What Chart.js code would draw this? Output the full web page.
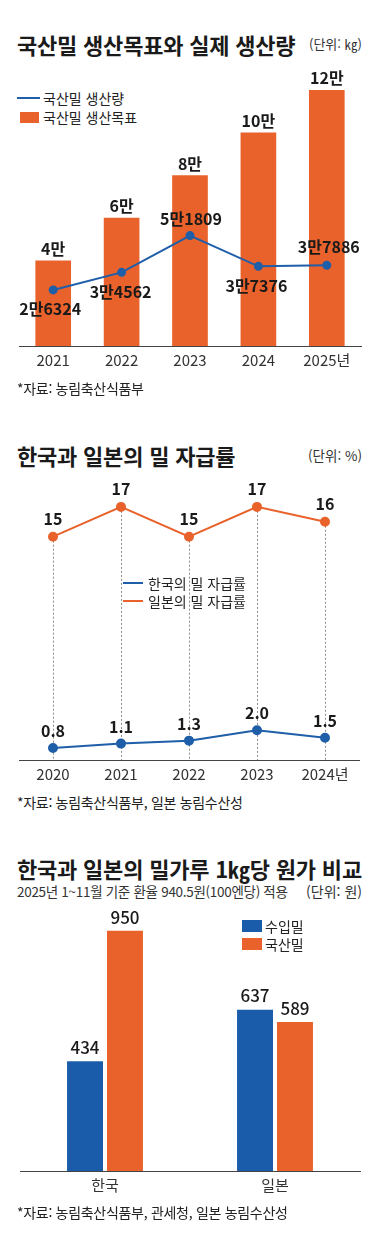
<!DOCTYPE html>
<html lang="ko">
<head>
<meta charset="utf-8">
<script src="https://cdn.jsdelivr.net/npm/chart.js@4.4.1/dist/chart.umd.min.js"></script>
<style>
  body { margin: 0; background: #fff; width: 392px; height: 1247px; position: relative; overflow: hidden;
         font-family: 'Noto Sans CJK KR', 'Noto Sans', sans-serif; color: #222; }
  .t { position: absolute; white-space: nowrap; }
  .title { left: 17px; font-size: 22px; font-weight: 700; line-height: 26px; letter-spacing: -0.2px; color: #1a1a1a; }
  .unit { font-size: 13px; line-height: 16px; color: #333; }
  .sub { left: 17px; font-size: 13.5px; line-height: 16px; color: #333; letter-spacing: -0.3px; }
  .src { left: 17px; font-size: 14px; line-height: 16px; color: #222; letter-spacing: -0.3px; }
  .lg { font-size: 14px; line-height: 18px; color: #222; }
  .sw { position: absolute; }
  canvas { position: absolute; left: 0; }
</style>
</head>
<body>

<!-- 1. 국산밀 생산목표와 실제 생산량 -->
<div class="t title" style="top:31px">국산밀 생산목표와 실제 생산량</div>
<div class="t unit" style="top:36px; right:30px">(단위: ㎏)</div>
<div class="sw" style="left:17px; top:97px; width:23px; height:2px; background:#1f5ea8"></div>
<div class="t lg" style="left:43px; top:89px">국산밀 생산량</div>
<div class="sw" style="left:20px; top:112px; width:19px; height:11px; background:#e9622b"></div>
<div class="t lg" style="left:43px; top:108px">국산밀 생산목표</div>
<canvas id="c1" width="392" height="320" style="top:60px"></canvas>
<div class="t src" style="top:380px">*자료: 농림축산식품부</div>

<!-- 2. 한국과 일본의 밀 자급률 -->
<div class="t title" style="top:442px">한국과 일본의 밀 자급률</div>
<div class="t unit" style="top:447px; right:30px; font-size:13.5px">(단위: %)</div>
<canvas id="c2" width="392" height="320" style="top:470px"></canvas>
<div class="sw" style="left:123px; top:582px; width:20px; height:2px; background:#1f5ea8"></div>
<div class="t lg" style="left:148px; top:574px">한국의 밀 자급률</div>
<div class="sw" style="left:123px; top:600px; width:20px; height:2px; background:#e9622b"></div>
<div class="t lg" style="left:148px; top:592px">일본의 밀 자급률</div>
<div class="t src" style="top:794px">*자료: 농림축산식품부, 일본 농림수산성</div>

<!-- 3. 한국과 일본의 밀가루 1㎏당 원가 비교 -->
<div class="t title" style="top:855px">한국과 일본의 밀가루 1㎏당 원가 비교</div>
<div class="t sub" style="top:883px">2025년 1~11월 기준 환율 940.5원(100엔당) 적용</div>
<div class="t unit" style="top:883px; right:30px; font-size:14px">(단위: 원)</div>
<canvas id="c3" width="392" height="320" style="top:900px"></canvas>
<div class="sw" style="left:242px; top:920px; width:20px; height:12px; background:#1a5caa"></div>
<div class="t lg" style="left:265px; top:917px">수입밀</div>
<div class="sw" style="left:242px; top:938px; width:20px; height:12px; background:#e9622b"></div>
<div class="t lg" style="left:265px; top:935px">국산밀</div>
<div class="t src" style="top:1204px">*자료: 농림축산식품부, 관세청, 일본 농림수산성</div>

<script>
// 국산밀 생산 (kg)
const prodYears = ['2021', '2022', '2023', '2024', '2025년'];
const prodTarget = [40000, 60000, 80000, 100000, 120000];
const prodActual = [26324, 34562, 51809, 37376, 37886];

// 밀 자급률 (%)
const rateYears = ['2020', '2021', '2022', '2023', '2024년'];
const rateKorea = [0.8, 1.1, 1.3, 2.0, 1.5];
const rateJapan = [15, 17, 15, 17, 16];

// 밀가루 1kg당 원가 (원)
const costCountries = ['한국', '일본'];
const costImported = [434, 637];
const costDomestic = [950, 589];

const ORANGE = '#e9622b';
const BLUE = '#1f5ea8';
const BLUE_BAR = '#1a5caa';
const FONT = "'Noto Sans CJK KR', 'Noto Sans', sans-serif";

Chart.defaults.font.family = FONT;
Chart.defaults.color = '#333';

function manFormat(v) {
  const man = Math.floor(v / 10000);
  const rest = v % 10000;
  return man + '만' + (rest ? rest : '');
}

// 값 라벨 그리기
const valueLabels = {
  id: 'valueLabels',
  afterDatasetsDraw(chart, args, opts) {
    const ctx = chart.ctx;
    (opts.items || []).forEach(item => {
      const meta = chart.getDatasetMeta(item.dataset);
      const data = chart.data.datasets[item.dataset].data;
      ctx.save();
      ctx.font = item.font;
      ctx.fillStyle = '#1a1a1a';
      ctx.textAlign = 'center';
      ctx.textBaseline = 'middle';
      meta.data.forEach((el, i) => {
        const dy = Array.isArray(item.dy) ? item.dy[i] : item.dy;
        const dx = Array.isArray(item.dx) ? item.dx[i] : (item.dx || 0);
        ctx.fillText(item.format(data[i]), el.x + dx, el.y + dy);
      });
      ctx.restore();
    });
  }
};

// 점에서 축까지 점선
const guideLines = {
  id: 'guideLines',
  beforeDatasetsDraw(chart, args, opts) {
    if (opts.dataset === undefined) return;
    const ctx = chart.ctx;
    const meta = chart.getDatasetMeta(opts.dataset);
    const bottom = chart.chartArea.bottom;
    ctx.save();
    ctx.setLineDash([2, 2]);
    ctx.strokeStyle = '#8a8a8a';
    ctx.lineWidth = 1;
    meta.data.forEach(el => {
      const x = Math.round(el.x) + 0.5;
      ctx.beginPath();
      ctx.moveTo(x, el.y);
      ctx.lineTo(x, bottom);
      ctx.stroke();
    });
    ctx.restore();
  }
};

// x축 높이를 고정해서 차트 영역 위치를 맞춤
function xAxis(labels, size, pad, height) {
  return {
    type: 'category',
    labels: labels,
    offset: true,
    grid: { display: false, drawTicks: false },
    border: { display: true, color: '#444', width: 1 },
    ticks: { color: '#333', font: { size: size }, padding: pad, maxRotation: 0, minRotation: 0, autoSkip: false },
    afterFit: scale => { scale.height = height; }
  };
}

// 차트 1
new Chart(document.getElementById('c1'), {
  data: {
    labels: prodYears,
    datasets: [
      {
        type: 'line',
        label: '국산밀 생산량',
        data: prodActual,
        borderColor: BLUE,
        backgroundColor: BLUE,
        borderWidth: 2,
        pointRadius: 3.5,
        pointBackgroundColor: BLUE,
        tension: 0,
        order: 0
      },
      {
        type: 'bar',
        label: '국산밀 생산목표',
        data: prodTarget,
        backgroundColor: ORANGE,
        barThickness: 35,
        order: 1
      }
    ]
  },
  options: {
    responsive: false,
    animation: false,
    layout: { padding: { top: 9, left: 19, right: 31, bottom: 10 } },
    scales: {
      x: xAxis(prodYears, 15, 5, 24),
      y: { display: false, min: 0, max: 130000 }
    },
    plugins: {
      legend: { display: false },
      tooltip: { enabled: false },
      valueLabels: {
        items: [
          { dataset: 1, font: 'bold 16px ' + FONT, dy: -12, format: manFormat },
          { dataset: 0, font: 'bold 16px ' + FONT, dy: [19, 20, -17, 20, -18], dx: [-3, -1, 1, -2, 2], format: manFormat }
        ]
      }
    }
  },
  plugins: [valueLabels]
});

// 차트 2
new Chart(document.getElementById('c2'), {
  type: 'line',
  data: {
    labels: rateYears,
    datasets: [
      {
        label: '한국의 밀 자급률',
        data: rateKorea,
        borderColor: BLUE,
        backgroundColor: BLUE,
        borderWidth: 2,
        pointRadius: 4,
        tension: 0
      },
      {
        label: '일본의 밀 자급률',
        data: rateJapan,
        borderColor: ORANGE,
        backgroundColor: ORANGE,
        borderWidth: 2,
        pointRadius: 4,
        tension: 0
      }
    ]
  },
  options: {
    responsive: false,
    animation: false,
    layout: { padding: { top: 22, left: 19, right: 33, bottom: 6 } },
    scales: {
      x: xAxis(rateYears, 15, 5, 24),
      y: { display: false, min: 0, max: 18 }
    },
    plugins: {
      legend: { display: false },
      tooltip: { enabled: false },
      guideLines: { dataset: 1 },
      valueLabels: {
        items: [
          { dataset: 0, font: 'bold 16px ' + FONT, dy: -17, format: v => v.toFixed(1) },
          { dataset: 1, font: 'bold 16px ' + FONT, dy: -18, format: v => String(v) }
        ]
      }
    }
  },
  plugins: [guideLines, valueLabels]
});

// 차트 3
new Chart(document.getElementById('c3'), {
  type: 'bar',
  data: {
    labels: costCountries,
    datasets: [
      { label: '수입밀', data: costImported, backgroundColor: BLUE_BAR, categoryPercentage: 0.47, barPercentage: 0.9 },
      { label: '국산밀', data: costDomestic, backgroundColor: ORANGE, categoryPercentage: 0.47, barPercentage: 0.9 }
    ]
  },
  options: {
    responsive: false,
    animation: false,
    layout: { padding: { top: 18, left: 20, right: 32, bottom: 25 } },
    scales: {
      x: xAxis(costCountries, 15, 5, 24),
      y: { display: false, min: 0, max: 1000 }
    },
    plugins: {
      legend: { display: false },
      tooltip: { enabled: false },
      valueLabels: {
        items: [
          { dataset: 0, font: '500 17px ' + FONT, dy: -14, format: v => String(v) },
          { dataset: 1, font: '500 17px ' + FONT, dy: -13, format: v => String(v) }
        ]
      }
    }
  },
  plugins: [valueLabels]
});
</script>
</body>
</html>
